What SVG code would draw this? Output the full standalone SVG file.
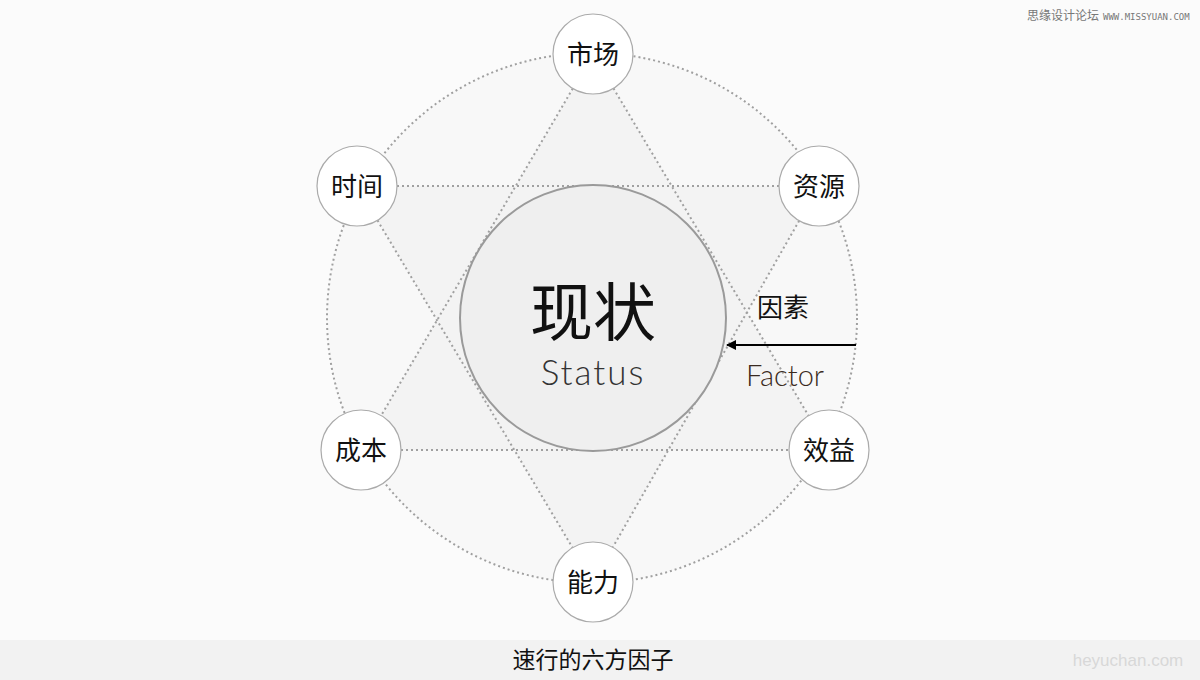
<svg xmlns="http://www.w3.org/2000/svg" width="1200" height="680" viewBox="0 0 1200 680">
<defs>
<style>
.dot{fill:none;stroke:#a0a0a0;stroke-width:2;stroke-dasharray:2 3}
.node circle{fill:#fff;stroke:#aaa;stroke-width:1.2}
.lbl{font-family:"Liberation Sans","Noto Sans CJK SC",sans-serif;font-size:26px;fill:#111;text-anchor:middle}
.thin{font-family:Lato,"Liberation Sans",sans-serif;font-weight:300;text-anchor:middle}
</style>
<marker id="ah" viewBox="0 0 10 10" refX="9" refY="5" markerWidth="5" markerHeight="5" orient="auto"><path d="M0,0 L10,5 L0,10 z" fill="#000"/></marker>
</defs>
<rect width="1200" height="680" fill="#fbfbfb"/>
<text x="1027" y="20" font-family="'Noto Sans CJK SC',sans-serif" font-size="12" fill="#777">思缘设计论坛</text>
<text x="1103" y="20" font-family="'DejaVu Sans Mono',monospace" font-size="9" fill="#777">WWW.MISSYUAN.COM</text>
<g id="connectors">
<circle cx="592" cy="318" r="265" class="dot" style="fill:#f8f8f8"/>
<polygon points="593,54 361,450 829,450" fill="#f3f3f3"/>
<polygon points="357,186 819,186 593,582" fill="#f3f3f3"/>
<line x1="593" y1="54" x2="361" y2="450" class="dot"/>
<line x1="593" y1="54" x2="829" y2="450" class="dot"/>
<line x1="361" y1="450" x2="829" y2="450" class="dot"/>
<line x1="357" y1="186" x2="819" y2="186" class="dot"/>
<line x1="357" y1="186" x2="593" y2="582" class="dot"/>
<line x1="819" y1="186" x2="593" y2="582" class="dot"/>
<line x1="856" y1="345" x2="727" y2="345" stroke="#000" stroke-width="2" marker-end="url(#ah)"/>
</g>
<g id="center">
<circle cx="593" cy="318" r="133" fill="#efefef" stroke="#9a9a9a" stroke-width="2"/>
<text x="593" y="335" font-family="'Noto Sans CJK SC',sans-serif" font-size="63" fill="#111" text-anchor="middle">现状</text>
<text x="593" y="385" class="thin" font-size="35" fill="#333" letter-spacing="2">Status</text>
</g>
<g id="factor">
<text x="783" y="317" class="lbl">因素</text>
<text x="785" y="386" class="thin" font-size="29" fill="#3a2a20">Factor</text>
</g>
<g id="n-market" class="node"><circle cx="593" cy="54" r="40"/><text x="593" y="64" class="lbl">市场</text></g>
<g id="n-time" class="node"><circle cx="357" cy="186" r="40"/><text x="357" y="196" class="lbl">时间</text></g>
<g id="n-resource" class="node"><circle cx="819" cy="186" r="40"/><text x="819" y="196" class="lbl">资源</text></g>
<g id="n-cost" class="node"><circle cx="361" cy="450" r="40"/><text x="361" y="460" class="lbl">成本</text></g>
<g id="n-benefit" class="node"><circle cx="829" cy="450" r="40"/><text x="829" y="460" class="lbl">效益</text></g>
<g id="n-ability" class="node"><circle cx="593" cy="582" r="40"/><text x="593" y="592" class="lbl">能力</text></g>
<g id="footer">
<rect x="0" y="640" width="1200" height="40" fill="#f2f2f2"/>
<text x="593" y="668" font-family="'Noto Sans CJK SC',sans-serif" font-size="23" fill="#111" text-anchor="middle">速行的六方因子</text>
<text x="1128" y="666" font-family="'Liberation Sans',sans-serif" font-size="17" fill="#d8d8d8" text-anchor="middle">heyuchan.com</text>
</g>
</svg>
